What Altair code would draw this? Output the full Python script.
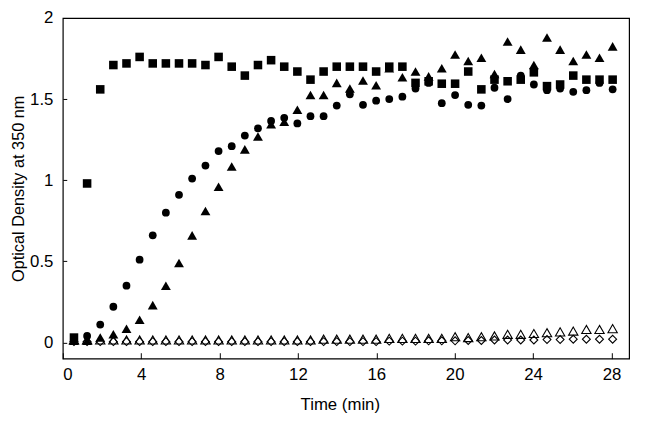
import altair as alt
import pandas as pd

# Time points (min)
time_min = [0.57, 1.24, 1.91, 2.58, 3.25, 3.92, 4.59, 5.26, 5.93, 6.60,
            7.28, 7.95, 8.62, 9.29, 9.96, 10.63, 11.30, 11.97, 12.64, 13.31,
            13.98, 14.65, 15.32, 15.99, 16.66, 17.33, 18.00, 18.67, 19.34, 20.02,
            20.69, 21.36, 22.03, 22.70, 23.37, 24.04, 24.71, 25.38, 26.05, 26.72,
            27.39, 28.06]

# Filled squares
od_square = [0.03, 0.98, 1.56, 1.71, 1.72, 1.76, 1.72, 1.72, 1.72, 1.72,
             1.71, 1.76, 1.70, 1.645, 1.71, 1.74, 1.70, 1.67, 1.62, 1.67,
             1.70, 1.70, 1.70, 1.67, 1.70, 1.70, 1.60, 1.61, 1.595, 1.595,
             1.67, 1.56, 1.62, 1.61, 1.62, 1.665, 1.58, 1.59, 1.645, 1.62,
             1.62, 1.62]

# Filled circles
od_circle = [0.02, 0.04, 0.11, 0.22, 0.35, 0.51, 0.66, 0.80, 0.91, 1.01,
             1.09, 1.18, 1.21, 1.275, 1.32, 1.365, 1.385, 1.35, 1.395, 1.395,
             1.46, 1.53, 1.465, 1.49, 1.50, 1.515, 1.565, 1.60, 1.475, 1.525,
             1.465, 1.46, 1.57, 1.50, 1.645, 1.59, 1.555, 1.565, 1.545, 1.555,
             1.60, 1.56]

# Filled triangles
od_triangle = [0.01, 0.01, 0.03, 0.05, 0.085, 0.14, 0.23, 0.35, 0.49, 0.66,
               0.81, 0.96, 1.085, 1.19, 1.27, 1.345, 1.36, 1.435, 1.525, 1.525,
               1.60, 1.565, 1.615, 1.585, 1.69, 1.635, 1.67, 1.64, 1.69, 1.775,
               1.735, 1.755, 1.655, 1.855, 1.805, 1.71, 1.88, 1.805, 1.735, 1.775,
               1.755, 1.825]

# Open triangles
od_open_triangle = [0.015, 0.015, 0.015, 0.015, 0.015, 0.015, 0.015, 0.015, 0.015, 0.015,
                    0.015, 0.015, 0.015, 0.015, 0.015, 0.015, 0.015, 0.015, 0.015, 0.02,
                    0.02, 0.02, 0.02, 0.02, 0.025, 0.025, 0.025, 0.025, 0.025, 0.035,
                    0.03, 0.035, 0.04, 0.05, 0.05, 0.055, 0.06, 0.065, 0.07, 0.08,
                    0.08, 0.085]

# Open diamonds
od_open_diamond = [0.005, 0.005, 0.005, 0.005, 0.005, 0.005, 0.005, 0.005, 0.005, 0.005,
                   0.005, 0.005, 0.005, 0.005, 0.005, 0.005, 0.005, 0.005, 0.005, 0.005,
                   0.005, 0.005, 0.005, 0.005, 0.008, 0.008, 0.008, 0.01, 0.01, 0.01,
                   0.012, 0.012, 0.015, 0.015, 0.015, 0.015, 0.018, 0.018, 0.02, 0.02,
                   0.02, 0.02]

x_ticks = [0, 4, 8, 12, 16, 20, 24, 28]
y_ticks = [0, 0.5, 1, 1.5, 2]

series = [
    ("squares", od_square, "square", True, 75),
    ("circles", od_circle, "circle", True, 62),
    ("triangles", od_triangle, "triangle-up", True, 100),
    ("open triangles", od_open_triangle, "triangle-up", False, 90),
    ("open diamonds", od_open_diamond, "diamond", False, 64),
]

rows = []
for name, vals, _, _, _ in series:
    for t, v in zip(time_min, vals):
        rows.append({"t": t, "od": v, "series": name})
df = pd.DataFrame(rows)

FONT = "Liberation Sans"

x_enc = alt.X(
    "t:Q",
    scale=alt.Scale(domain=[0, 28.9], nice=False, zero=False),
    axis=alt.Axis(
        values=x_ticks, title="Time (min)", grid=False, domain=False,
        offset=-6, tickSize=6, tickColor="black", tickWidth=1,
        labelPadding=8, labelFontSize=17, labelFont=FONT, labelColor="black",
        titleFontSize=17, titleFont=FONT, titleFontWeight="normal", titleColor="black",
        titlePadding=14, titleX=280.5, titleAlign="center",
    ),
)
y_enc = alt.Y(
    "od:Q",
    scale=alt.Scale(domain=[-0.1, 2.0], nice=False, zero=False),
    axis=alt.Axis(
        values=y_ticks, format="~g", title="Optical Density at 350 nm", grid=False,
        domain=False, offset=-4, tickSize=4, tickColor="black", tickWidth=1,
        labelPadding=10, labelFontSize=17, labelFont=FONT, labelColor="black",
        titleFontSize=16.5, titleFont=FONT, titleFontWeight="normal", titleColor="black",
        titlePadding=3,
    ),
)

layers = []
for name, _, shape, filled, size in series:
    layers.append(
        alt.Chart(df)
        .transform_filter(alt.datum.series == name)
        .mark_point(shape=shape, filled=filled, size=size, color="black",
                    opacity=1, strokeWidth=1.1)
        .encode(x=x_enc, y=y_enc)
    )

chart = (
    alt.layer(*layers)
    .properties(
        width=573.5, height=345,
        autosize=alt.AutoSizeParams(type="none"),
        padding={"left": 55.5, "top": 7.5, "right": 8, "bottom": 60},
        background="white",
    )
    .configure_view(stroke="black", strokeWidth=1.2)
)

chart.save("out.html", embed_options={"renderer": "svg", "actions": False})
